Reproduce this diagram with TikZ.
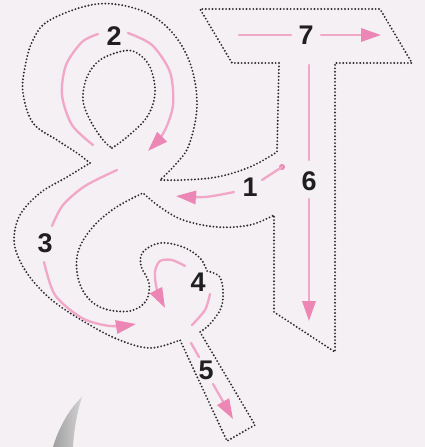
\documentclass[tikz,border=0pt]{standalone}
\usepackage{fontspec}
\setsansfont{Liberation Sans}
\usetikzlibrary{arrows.meta}
\definecolor{paper}{HTML}{F5F0F4}
\definecolor{traceline}{HTML}{F1A7C8}
\definecolor{tracehead}{HTML}{EC86B4}
\definecolor{dotgrey}{HTML}{2E2E2E}
\tikzset{
  outline/.style={draw=dotgrey,line width=1.8pt,dash pattern=on 0pt off 2.9pt,line cap=round,line join=round},
  plainline/.style={draw=traceline,line width=2pt,line cap=round},
  traceline/.style={plainline,-{Triangle[length=6mm,width=4mm,color=tracehead]}},
  numlabel/.style={font=\sffamily\bfseries\fontsize{23}{24}\selectfont,inner sep=1pt,text=black!88},
}
\begin{document}
\begin{tikzpicture}[x=0.03cm,y=-0.03cm]
  \useasboundingbox (0,0) rectangle (425,447);
  \fill[paper] (0,0) rectangle (425,447);
  % letter outline
  \draw[outline] plot[smooth,tension=0.6] coordinates {(90,163) (77,153) (57,140) (33,123) (23,93) (25,67) (33,40) (50,20) (97,4) (140,10) (170,30) (190,63) (197,105) (189,145) (175,165) (160,180)}
    -- plot[smooth,tension=0.6] coordinates {(160,180) (183,180) (217,177) (250,167) (277,152)}
    -- (279,63) -- (232,63) -- (200,9) -- (380,9) -- (412,63) -- (335,63) -- (335,352) -- (274,312) -- (274,215)
    -- plot[smooth,tension=0.6] coordinates {(274,215) (250,225) (217,227) (183,220) (160,207) (143,193)}
    -- plot[smooth,tension=0.6] coordinates {(143,193) (115,208) (92,228) (78,252) (78,278) (88,298) (105,309) (130,311) (146,301) (149,283) (141,266) (143,252) (160,243) (183,247) (200,258) (207,271)}
    -- plot[smooth,tension=0.6] coordinates {(207,271) (219,276) (223,290) (221,308) (210,324) (200,332)}
    -- (255,425) -- (227,441) -- (180,340)
    -- plot[smooth,tension=0.6] coordinates {(180,340) (150,348) (117,339) (83,321) (53,301) (33,281) (20,261) (14,240) (20,215) (40,193) (67,177) (90,163)};
  \draw[outline] plot[smooth,tension=0.6] coordinates {(112,148) (127,137) (147,117) (155,93) (150,67) (137,53) (123,51) (100,60) (87,77) (83,100) (90,120) (103,140) (112,148)};
  % pencil tip
  \shade[left color=gray!75,right color=gray!35] (82,397) .. controls (68,410) and (58,430) .. (53,447) -- (73,447) .. controls (74,430) and (77,412) .. (82,397) -- cycle;
  % stroke order
  \node[numlabel] (n1) at (250,187) {1};
  \node[numlabel] (n2) at (114,36) {2};
  \node[numlabel] (n3) at (45,243) {3};
  \node[numlabel] (n4) at (198,282) {4};
  \node[numlabel] (n5) at (206,370) {5};
  \node[numlabel] (n6) at (309,181) {6};
  \node[numlabel] (n7) at (306,35) {7};
  \fill[tracehead] (282,167) circle (3);
  \draw[plainline] (282,167) -- (262,180);
  \draw[traceline] plot[smooth] coordinates {(234,192) (205,197) (176,196)};
  \draw[plainline] plot[smooth] coordinates {(93,145) (72,125) (62,95) (66,65) (82,42) (98,34)};
  \draw[traceline] plot[smooth] coordinates {(128,33) (152,45) (170,72) (173,105) (164,132) (148,151)};
  \draw[plainline] plot[smooth] coordinates {(117,170) (85,186) (63,205) (52,226)};
  \draw[traceline] plot[smooth] coordinates {(44,262) (55,295) (82,318) (110,326) (136,324)};
  \draw[plainline] plot[smooth] coordinates {(192,325) (205,310) (210,294)};
  \draw[traceline] plot[smooth] coordinates {(185,266) (172,260) (160,261) (155,272) (157,290) (165,308)};
  \draw[plainline] (191,343) -- (199,357);
  \draw[traceline] (213,384) -- (233,419);
  \draw[plainline] (309,65) -- (309,160);
  \draw[traceline] (309,199) -- (309,321);
  \draw[plainline] (239,35) -- (291,35);
  \draw[traceline] (321,35) -- (381,35);
\end{tikzpicture}
\end{document}
